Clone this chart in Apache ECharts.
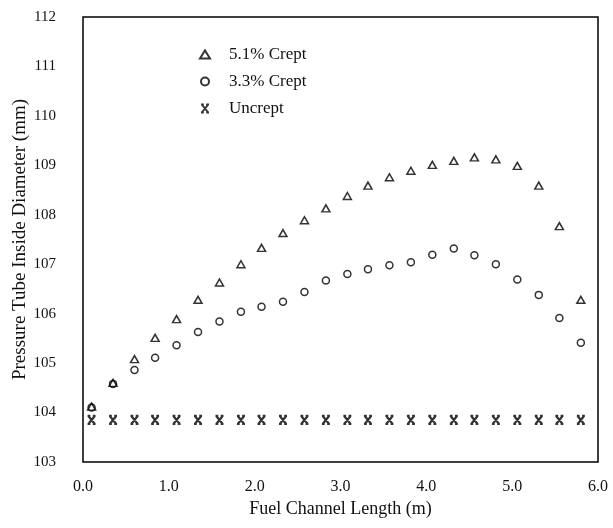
<!DOCTYPE html>
<html>
<head>
<meta charset="utf-8">
<script src="https://cdn.jsdelivr.net/npm/echarts@6/dist/echarts.min.js"></script>
<style>
  html, body { margin: 0; padding: 0; background: #fff; }
  #chart { width: 613px; height: 528px; }
</style>
</head>
<body>
<div id="chart"></div>
<script>
// positions along the channel (m)
const lengths = [0.10, 0.35, 0.60, 0.84, 1.09, 1.34, 1.59, 1.84, 2.08, 2.33, 2.58, 2.83,
                 3.08, 3.32, 3.57, 3.82, 4.07, 4.32, 4.56, 4.81, 5.06, 5.31, 5.55, 5.80];

// inside diameter (mm)
const crept51 = [104.12, 104.60, 105.08, 105.51, 105.89, 106.28, 106.63, 107.00, 107.33, 107.63, 107.89, 108.13,
                 108.38, 108.59, 108.76, 108.89, 109.01, 109.09, 109.16, 109.12, 108.99, 108.59, 107.77, 106.28];
const crept33 = [104.10, 104.58, 104.86, 105.11, 105.36, 105.63, 105.84, 106.04, 106.14, 106.24, 106.44, 106.67,
                 106.80, 106.90, 106.98, 107.04, 107.19, 107.32, 107.18, 107.00, 106.69, 106.38, 105.91, 105.41];
const uncrept = [103.85, 103.85, 103.85, 103.85, 103.85, 103.85, 103.85, 103.85, 103.85, 103.85, 103.85, 103.85,
                 103.85, 103.85, 103.85, 103.85, 103.85, 103.85, 103.85, 103.85, 103.85, 103.85, 103.85, 103.85];

const seriesNames = ['5.1% Crept', '3.3% Crept', 'Uncrept'];

const serif = '"Liberation Serif", "DejaVu Serif", serif';
const pairs = (ys) => lengths.map((x, i) => [x, ys[i]]);

// bold x with little serifs top and bottom
const crossMark = 'path://M1,0 L9,10 M9,0 L1,10 M0,0 L3.5,0 M6.5,0 L10,0 M0,10 L3.5,10 M6.5,10 L10,10';

const hollow = { color: 'rgba(0,0,0,0)', borderColor: '#000', borderWidth: 1.5 };

const chart = echarts.init(document.getElementById('chart'), null, { renderer: 'canvas' });
chart.setOption({
    animation: false,
    backgroundColor: '#fff',
    grid: {
        left: 83, right: 15, top: 17, bottom: 66,
        outerBoundsMode: 'none', containLabel: false,
        show: true, borderColor: '#000', borderWidth: 1.5, backgroundColor: 'transparent'
    },
    legend: {
        orient: 'vertical',
        left: 194, top: 41,
        itemWidth: 10, itemHeight: 8, itemGap: 10,
        textStyle: { fontFamily: serif, fontSize: 17, color: '#111', padding: [0, 0, 0, 14] },
        data: seriesNames
    },
    xAxis: {
        type: 'value', min: 0, max: 6, interval: 1,
        name: 'Fuel Channel Length (m)', nameLocation: 'middle', nameGap: 38,
        nameMoveOverlap: false,
        nameTextStyle: { fontFamily: serif, fontSize: 18, color: '#111' },
        axisLine: { show: false }, axisTick: { show: false }, splitLine: { show: false },
        axisLabel: { fontFamily: serif, fontSize: 16, color: '#111', margin: 17,
            formatter: (v) => v.toFixed(1) }
    },
    yAxis: {
        type: 'value', min: 103, max: 112, interval: 1,
        name: 'Pressure Tube Inside Diameter (mm)', nameLocation: 'middle', nameGap: 53,
        nameMoveOverlap: false,
        nameTextStyle: { fontFamily: serif, fontSize: 19, color: '#111' },
        axisLine: { show: false }, axisTick: { show: false }, splitLine: { show: false },
        axisLabel: { fontFamily: serif, fontSize: 15, color: '#111', margin: 27 }
    },
    series: [
        { name: seriesNames[0], type: 'scatter', symbol: 'triangle', symbolSize: [8, 7],
          itemStyle: hollow, data: pairs(crept51) },
        { name: seriesNames[1], type: 'scatter', symbol: 'circle', symbolSize: 7,
          itemStyle: hollow, data: pairs(crept33) },
        { name: seriesNames[2], type: 'scatter', symbol: crossMark, symbolSize: [8, 8],
          itemStyle: { color: 'rgba(0,0,0,0)', borderColor: '#000', borderWidth: 2.2 }, data: pairs(uncrept) }
    ]
});
window.addEventListener('resize', () => chart.resize());
</script>
</body>
</html>
